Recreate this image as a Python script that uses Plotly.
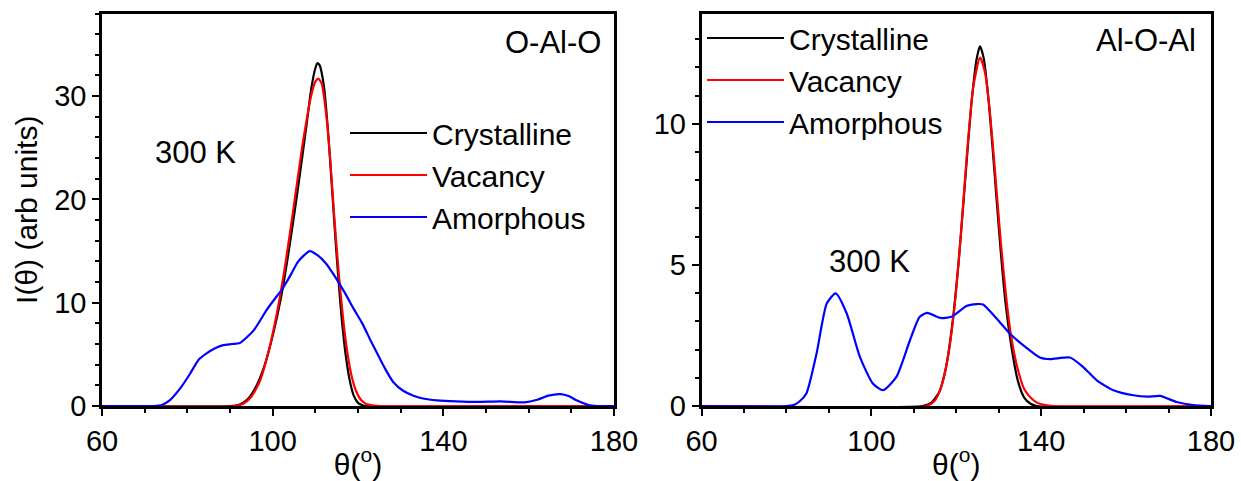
import plotly.graph_objects as go

FONT = "Liberation Sans"

# ---------------- O-Al-O (left panel) ----------------
theta_cry_oalo = [60, 90, 92, 94, 96, 98, 100, 102, 104, 106, 108, 109, 110, 110.5, 111, 112,
                  113, 114, 115, 116, 117, 118, 119, 120, 121, 122, 180]
i_cry_oalo = [0, 0, 0.1, 0.6, 1.8, 3.8, 6.8, 10.6, 15.6, 21.3, 27.4, 30.6, 32.7, 33.2, 33.0, 31.0,
              26.5, 20.5, 14.5, 9.3, 5.3, 2.6, 1.0, 0.3, 0.08, 0, 0]

theta_vac_oalo = [60, 91, 93, 95, 97, 99, 101, 103, 105, 107, 109, 110, 110.7, 111.5, 112.5,
                  113.5, 114.5, 115.5, 116.5, 117.5, 118.5, 119.5, 120.5, 121.5, 123, 125, 180]
i_vac_oalo = [0, 0, 0.2, 0.9, 2.4, 5.2, 9.0, 13.8, 19.5, 25.3, 30.0, 31.4, 31.7, 31.2, 28.4,
              23.8, 18.0, 12.8, 8.5, 5.2, 2.9, 1.5, 0.7, 0.3, 0.08, 0, 0]

theta_amo_oalo = [60, 72, 74, 76, 78.5, 80.6, 82.7, 84.5, 86.5, 88.4, 90.5, 92.3, 95.5, 98.6,
                  100.9, 102.2, 104.1, 106, 108.7, 110.5, 112.5, 114.5, 117, 119, 121, 123,
                  124.6, 126.5, 128.3, 130.5, 133, 135.5, 138.5, 143, 148, 153.5, 159, 162,
                  164.6, 167.4, 169.5, 171.2, 174, 176, 180]
i_amo_oalo = [0, 0, 0.1, 0.6, 1.8, 3.1, 4.5, 5.1, 5.6, 5.9, 6.0, 6.1, 7.3, 9.3,
              10.6, 11.3, 12.6, 14.0, 15.0, 14.6, 13.8, 12.6, 10.9, 9.4, 8.0, 6.3,
              5.0, 3.5, 2.3, 1.5, 1.0, 0.7, 0.55, 0.45, 0.4, 0.45, 0.35, 0.6,
              1.0, 1.15, 0.95, 0.55, 0.1, 0, 0]

# ---------------- Al-O-Al (right panel) ----------------
theta_cry_aloal = [60, 112, 114, 116, 117.5, 119, 120.5, 122, 123.5, 124.8, 125.6, 126.5,
                   127.7, 129, 130.3, 131.5, 133, 134.5, 136, 137.5, 139, 180]
i_cry_aloal = [0, 0, 0.1, 0.5, 1.3, 2.8, 5.0, 7.8, 10.6, 12.3, 12.75, 12.3,
               10.7, 8.3, 5.8, 3.8, 2.1, 0.9, 0.3, 0.08, 0, 0]

theta_vac_aloal = [60, 113, 115, 116.5, 118, 119.5, 121, 122.5, 124, 125.6, 126.8, 128,
                   129.3, 130.5, 131.8, 133, 134.5, 136, 137.5, 139, 141, 143, 180]
i_vac_aloal = [0, 0, 0.2, 0.7, 1.7, 3.4, 5.9, 8.9, 11.3, 12.35, 11.8, 10.3,
               8.0, 5.8, 3.8, 2.4, 1.3, 0.6, 0.3, 0.12, 0.03, 0, 0]

theta_amo_aloal = [60, 80, 81.6, 83, 84.7, 87.1, 89.5, 91.6, 94.2, 97.3, 100.4, 102.8,
                   105.9, 109.1, 111.4, 113.2, 116.2, 118.9, 122.4, 124.8, 126.3, 129.5,
                   132.6, 135.8, 139.7, 142.1, 146.8, 149.9, 153.1, 157.0, 161.7, 165,
                   168.0, 171.9, 175.8, 180]
i_amo_aloal = [0, 0, 0.03, 0.15, 0.44, 1.86, 3.63, 3.99, 3.28, 1.74, 0.79, 0.56,
               1.03, 2.33, 3.16, 3.30, 3.12, 3.16, 3.54, 3.61, 3.6, 3.10,
               2.57, 2.15, 1.72, 1.66, 1.72, 1.38, 0.91, 0.56, 0.38, 0.33,
               0.36, 0.14, 0.03, 0]

series_names = ["Crystalline", "Vacancy", "Amorphous"]
series_colors = ["#000000", "#ff0000", "#0000ff"]

x_tickvals = [60, 100, 140, 180]
y1_tickvals = [0, 10, 20, 30]
y2_tickvals = [0, 5, 10]

fig = go.Figure()

left_data = [(theta_cry_oalo, i_cry_oalo), (theta_vac_oalo, i_vac_oalo), (theta_amo_oalo, i_amo_oalo)]
right_data = [(theta_cry_aloal, i_cry_aloal), (theta_vac_aloal, i_vac_aloal), (theta_amo_aloal, i_amo_aloal)]

for (xs, ys), name, col in zip(left_data, series_names, series_colors):
    fig.add_trace(go.Scatter(x=xs, y=ys, mode="lines", name=name,
                             line=dict(color=col, width=2.2, shape="spline", smoothing=0.6),
                             xaxis="x", yaxis="y", legend="legend"))
for (xs, ys), name, col in zip(right_data, series_names, series_colors):
    fig.add_trace(go.Scatter(x=xs, y=ys, mode="lines", name=name,
                             line=dict(color=col, width=2.2, shape="spline", smoothing=0.6),
                             xaxis="x2", yaxis="y2", legend="legend2"))

def axis_style(**kw):
    d = dict(showline=True, linecolor="black", linewidth=2.5, mirror=True,
             ticks="outside", ticklen=7, tickwidth=2, tickcolor="black",
             showgrid=False, zeroline=False,
             tickfont=dict(family=FONT, size=29, color="black"))
    d.update(kw)
    return d

ydom = [1 - 406 / 481, 1 - 13.5 / 481]

fig.update_layout(
    width=1241, height=481,
    margin=dict(l=0, r=0, t=0, b=0),
    paper_bgcolor="white", plot_bgcolor="white",
    font=dict(family=FONT, color="black"),
    template="none",
    xaxis=axis_style(domain=[102 / 1241, 614 / 1241], range=[60, 180],
                     tickmode="array", tickvals=x_tickvals,
                     minor=dict(dtick=10, tick0=60, ticks="outside", ticklen=4, tickwidth=2, tickcolor="black"),
                     title=dict(text="θ(<sup>o</sup>)", font=dict(family=FONT, size=30, color="black"), standoff=0),
                     anchor="y"),
    yaxis=axis_style(domain=ydom, range=[0, 38], tickmode="array", tickvals=y1_tickvals,
                     minor=dict(dtick=2, tick0=0, ticks="outside", ticklen=4, tickwidth=2, tickcolor="black"),
                     title=dict(text="I(θ) (arb units)", font=dict(family=FONT, size=30, color="black"), standoff=8),
                     anchor="x"),
    xaxis2=axis_style(domain=[701.5 / 1241, 1211 / 1241], range=[60, 180],
                      tickmode="array", tickvals=x_tickvals,
                      minor=dict(dtick=10, tick0=60, ticks="outside", ticklen=4, tickwidth=2, tickcolor="black"),
                      title=dict(text="θ(<sup>o</sup>)", font=dict(family=FONT, size=30, color="black"), standoff=0),
                      anchor="y2"),
    yaxis2=axis_style(domain=ydom, range=[0, 13.91], tickmode="array", tickvals=y2_tickvals,
                      minor=dict(dtick=1, tick0=0, ticks="outside", ticklen=4, tickwidth=2, tickcolor="black"),
                      anchor="x2"),
    legend=dict(x=345 / 1241, y=1 - 107 / 481, xanchor="left", yanchor="top",
                bgcolor="rgba(0,0,0,0)", borderwidth=0, itemwidth=77,
                font=dict(family=FONT, size=30, color="black"), tracegroupgap=0),
    legend2=dict(x=702 / 1241, y=1 - 12 / 481, xanchor="left", yanchor="top",
                 bgcolor="rgba(0,0,0,0)", borderwidth=0, itemwidth=77,
                 font=dict(family=FONT, size=30, color="black"), tracegroupgap=0),
    showlegend=True,
)

annots = [
    dict(text="300 K", x=195, y=153, xanchor="center"),
    dict(text="O-Al-O", x=603, y=42, xanchor="right"),
    dict(text="300 K", x=869, y=261, xanchor="center"),
    dict(text="Al-O-Al", x=1198, y=40, xanchor="right"),
]
for a in annots:
    fig.add_annotation(text=a["text"], x=a["x"] / 1241, y=1 - a["y"] / 481,
                       xref="paper", yref="paper", xanchor=a["xanchor"], yanchor="middle",
                       showarrow=False, font=dict(family=FONT, size=31, color="black"))

fig.write_html("out.html")
